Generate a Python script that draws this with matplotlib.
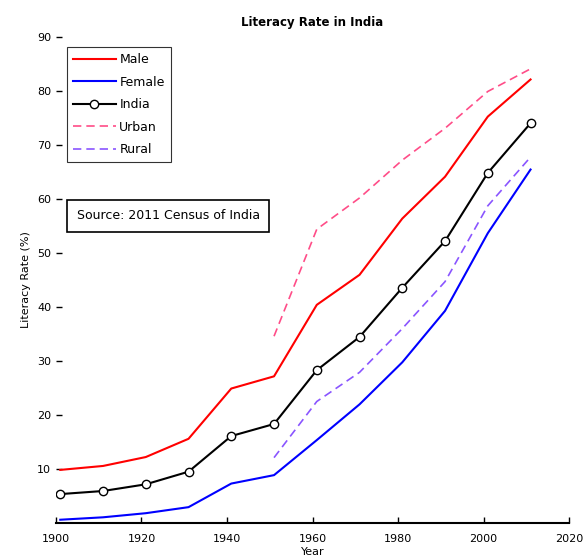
import numpy as np
import matplotlib.pyplot as plt

years = [1901, 1911, 1921, 1931, 1941, 1951, 1961, 1971, 1981, 1991, 2001, 2011]
male = [9.83, 10.56, 12.21, 15.59, 24.90, 27.16, 40.40, 45.96, 56.38, 64.13, 75.26, 82.14]
female = [0.60, 1.05, 1.81, 2.93, 7.30, 8.86, 15.35, 21.97, 29.76, 39.29, 53.67, 65.46]
india = [5.35, 5.92, 7.16, 9.50, 16.10, 18.33, 28.30, 34.45, 43.57, 52.21, 64.83, 74.04]

years_ur = [1951, 1961, 1971, 1981, 1991, 2001, 2011]
urban = [34.59, 54.40, 60.20, 67.20, 73.10, 79.92, 84.11]
rural = [12.10, 22.50, 27.90, 36.00, 44.70, 58.74, 67.77]

xticks = [1900, 1920, 1940, 1960, 1980, 2000, 2020]
yticks = [10, 20, 30, 40, 50, 60, 70, 80, 90]

plt.rcParams['font.family'] = ['DejaVu Sans']
fig = plt.figure(figsize=(5.85, 5.56), dpi=100)
ax = fig.add_axes([0.0957, 0.0594, 0.877, 0.874])

ax.plot(years, male, color='#ff0000', lw=1.5, label='Male')
ax.plot(years, female, color='#0000ff', lw=1.5, label='Female')
ax.plot(years, india, color='black', lw=1.5, marker='o', ms=6, mfc='white', mec='black',
        label='India')
ax.plot(years_ur, urban, color='#ff4d88', lw=1.2, ls=(0, (5, 3)), label='Urban')
ax.plot(years_ur, rural, color='#8a55ff', lw=1.2, ls=(0, (5, 3)), label='Rural')

ax.set_xlim(1900, 2020)
ax.set_ylim(0, 90)
ax.set_xticks(xticks)
ax.set_yticks(yticks)
ax.tick_params(direction='in', length=4, labelsize=8, width=1)
ax.tick_params(axis='x', pad=8)
for s in ['top', 'right', 'left']:
    ax.spines[s].set_visible(False)
ax.spines['bottom'].set_linewidth(1.5)

ax.set_title('Literacy Rate in India', fontsize=8.5, fontweight='bold', pad=8)
ax.set_xlabel('Year', fontsize=8, labelpad=2)
ax.set_ylabel('Literacy Rate (%)', fontsize=8)

leg = ax.legend(loc='upper left', bbox_to_anchor=(0.021, 0.979), fontsize=9,
                fancybox=False, handlelength=3.4, handletextpad=0.3,
                borderpad=0.5, labelspacing=0.75, borderaxespad=0)
leg.get_frame().set_edgecolor('black')
leg.get_frame().set_linewidth(0.8)

ax.text(0.04, 0.632, 'Source: 2011 Census of India', transform=ax.transAxes,
        fontsize=9, va='center', ha='left',
        bbox=dict(boxstyle='square,pad=0.75', fc='white', ec='black', lw=1.2))

plt.savefig('out.png', dpi=100)
